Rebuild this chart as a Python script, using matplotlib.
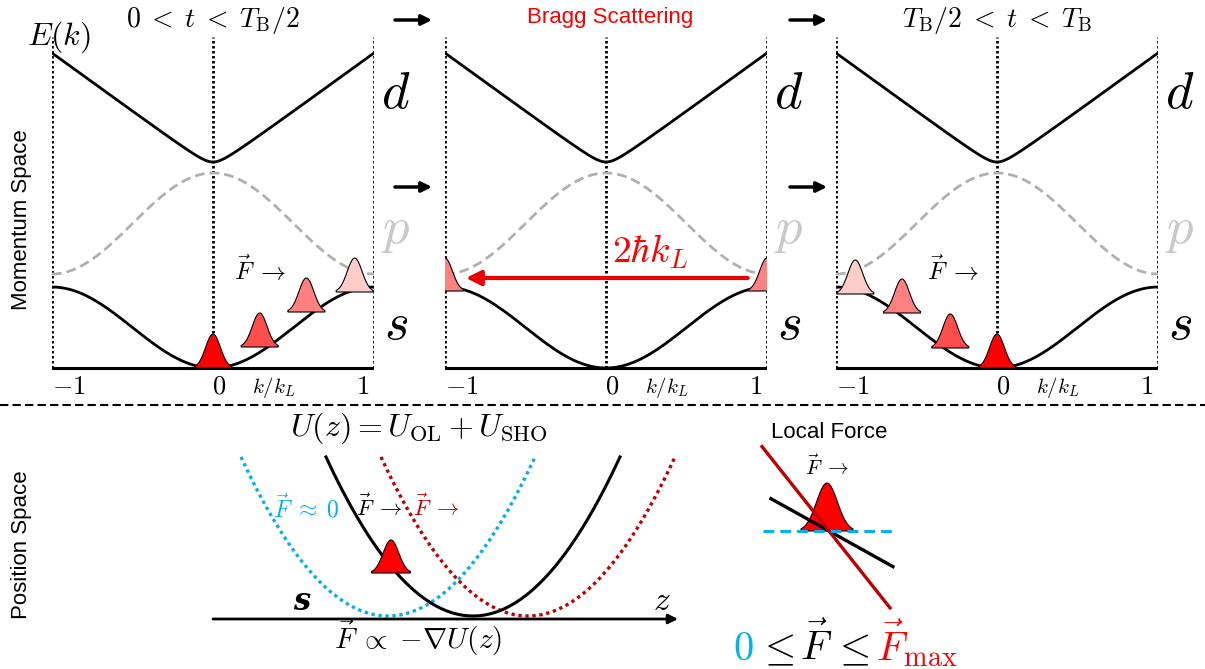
import numpy as np
import matplotlib.pyplot as plt

plt.rcParams['mathtext.fontset'] = 'cm'
plt.rcParams['font.family'] = ['Liberation Sans', 'DejaVu Sans']

W, H = 1205, 669

# ---- momentum space panels ----
panel_left = [52, 445, 836]          # pixel x of k = -1 in each panel
panel_titles = [r'$0\;<\;t\;<\;T_{\rm B}/2$', 'Bragg Scattering', r'$T_{\rm B}/2\;<\;t\;<\;T_{\rm B}$']
title_colors = ['black', 'red', 'black']

# band energies (units: 100 px above band bottom)
s_top = 0.81
p_min, p_max = 0.94, 1.95
d_min, d_edge = 2.06, 3.15
d_round = 0.08

# wave packets: k position, base energy
packets_k = [[0.0, 0.29, 0.58, 0.88], [], [0.0, -0.29, -0.59, -0.88]]
packets_E = [[0.0, 0.21, 0.56, 0.76], [], [0.0, 0.20, 0.55, 0.74]]
packet_colors = ['#ff0000', '#ff4d4d', '#ff8080', '#ffcccc']
bragg_k = [-1.0, 1.0]
bragg_E = [0.77, 0.77]
packet_h = 0.34
packet_hw = 0.115

# ---- position space ----
trap_z0 = [0.0, -0.85, 0.55]         # black, blue, red parabola centres
trap_colors = ['black', '#00b0f0', '#c00000']
trap_curv = 0.736
trap_arm = 1.47
pos_packet = (-0.82, 0.43)           # z, base U

# ---- local force ----
slopes = [0.0, -0.557, -1.26]        # blue (F=0), black, red (F max)
slope_x = [(-0.66, 0.65), (-0.58, 0.64), (-0.67, 0.61)]
slope_colors = ['#00b0f0', 'black', '#c00000']

# inequality pieces: text, colour, left x
ineq_pieces = [r'$0$', r'$\leq$', r'$\vec{F}$', r'$\leq$', r'$\vec{F}_{\rm max}$']
ineq_colors = ['#00b0f0', 'black', 'black', 'black', 'red']
ineq_x = [733, 757, 800, 832, 876]


def packet(ax, x0, base, h, hw, color, z=5):
    x = np.linspace(x0 - hw, x0 + hw, 80)
    sig = hw / 2.5
    y = base + h * np.exp(-(x - x0) ** 2 / (2 * sig ** 2))
    ax.fill(np.r_[x, x[::-1]], np.r_[y, np.full_like(y, base)],
            facecolor=color, edgecolor='black', lw=0.8, zorder=z)


fig = plt.figure(figsize=(W / 100, H / 100), dpi=100)
ax0 = fig.add_axes([0, 0, 1, 1])
ax0.set_xlim(0, W)
ax0.set_ylim(H, 0)
ax0.axis('off')

k = np.linspace(-1, 1, 301)
s_band = s_top / 2 * (1 - np.cos(np.pi * k))
p_band = p_min + (p_max - p_min) / 2 * (1 + np.cos(np.pi * k))
d_band = d_min - d_round + np.sqrt(d_round ** 2 + ((d_edge - d_min + d_round) ** 2 - d_round ** 2) * k ** 2)

for i, x0 in enumerate(panel_left):
    ax = fig.add_axes([x0 / W, 1 - 398 / H, 322 / W, 361 / H])
    ax.set_xlim(-1, 1)
    ax.set_ylim(-0.3, 3.31)
    ax.axis('off')
    for kk in [-1, 0, 1]:
        ax.plot([kk, kk], [0, 3.31], color='black', lw=2.0, ls=(0, (0.9, 0.9)), zorder=1)
    ax.plot([-1, 1], [0, 0], color='black', lw=2.2, zorder=2)
    ax.plot(k, d_band, color='black', lw=2)
    ax.plot(k, p_band, color='#b0b0b0', lw=2, dashes=(3.5, 1.8))
    ax.plot(k, s_band, color='black', lw=2)
    for kk, ee, cc in zip(packets_k[i], packets_E[i], packet_colors):
        packet(ax, kk, ee, packet_h, packet_hw, cc)
    ax.text(-1, -0.19, r'$-1$', fontsize=19, ha='left', va='center')
    ax.text(0.04, -0.19, r'$0$', fontsize=19, ha='center', va='center')
    ax.text(0.93, -0.19, r'$1$', fontsize=19, ha='center', va='center')
    ax.text(0.38, -0.19, r'$k/k_L$', fontsize=15, ha='center', va='center')
    if i == 1:
        for kk, ee in zip(bragg_k, bragg_E):
            packet(ax, kk, ee, 0.33, packet_hw, '#ff8080')
        ax.annotate('', xy=(-0.87, 0.9), xytext=(0.88, 0.9),
                    arrowprops=dict(arrowstyle='-|>', color='#ee0000', lw=3,
                                    mutation_scale=22, shrinkA=0, shrinkB=0))
        ax.text(0.04, 1.16, r'$2\hbar k_L$', color='red', fontsize=27, ha='left', va='center')
    else:
        ax.text(0.29 if i == 0 else -0.27, 0.98, r'$\vec{F}\;\rightarrow$', fontsize=18,
                ha='center', va='center')
    # band labels on the right
    xl = x0 + 322 + 22
    ax0.text(xl, 94, r'$d$', fontsize=38, ha='center', va='center')
    ax0.text(xl, 230, r'$p$', fontsize=38, ha='center', va='center', color='#c8c8c8')
    ax0.text(xl, 325, r'$s$', fontsize=38, ha='center', va='center')
    # titles
    cx = x0 + 161
    if i == 1:
        ax0.text(cx + 4, 18, panel_titles[i], fontsize=16, color='red', ha='center', va='center')
    else:
        ax0.text(cx, 21, panel_titles[i], fontsize=20, color=title_colors[i], ha='center', va='center')

ax0.text(59, 37, r'$E(k)$', fontsize=23, ha='center', va='center')

# arrows between panels
for xa, xb in [(395, 432), (790, 827)]:
    for ya in [20, 187]:
        ax0.annotate('', xy=(xb, ya), xytext=(xa, ya),
                     arrowprops=dict(arrowstyle='-|>', color='black', lw=2.5,
                                     mutation_scale=15, shrinkA=0, shrinkB=0))

ax0.text(22, 220, 'Momentum Space', fontsize=16, rotation=90, ha='center', va='center')
ax0.text(22, 545, 'Position Space', fontsize=16, rotation=90, ha='center', va='center')
ax0.plot([0, W], [405, 405], color='black', lw=1.5, dashes=(4, 2))

# ---- position space: trap potentials ----
axp = fig.add_axes([200 / W, 1 - 660 / H, 500 / W, 220 / H])
axp.set_xlim(-2.73, 2.27)
axp.set_ylim(-0.44, 1.76)
axp.axis('off')
for z0, col in zip(trap_z0, trap_colors):
    z = np.linspace(z0 - trap_arm, z0 + trap_arm, 200)
    if col == 'black':
        axp.plot(z, trap_curv * (z - z0) ** 2, color=col, lw=2.2, zorder=3)
    else:
        axp.plot(z, trap_curv * (z - z0) ** 2, color=col, lw=2.4, ls=(0, (1, 1.1)), zorder=2)
packet(axp, pos_packet[0], pos_packet[1], 0.33, 0.195, '#ff0000')
axp.annotate('', xy=(2.05, -0.03), xytext=(-2.6, -0.03),
             arrowprops=dict(arrowstyle='-|>', color='black', lw=2,
                             mutation_scale=14, shrinkA=0, shrinkB=0))

ax0.text(419, 428, r'$U(z)=U_{\rm OL}+U_{\rm SHO}$', fontsize=23, ha='center', va='center')
ax0.text(306, 508, r'$\vec{F}\;\approx\;0$', fontsize=17, color='#00b0f0', ha='center', va='center')
ax0.text(379, 508, r'$\vec{F}\;\rightarrow$', fontsize=16, ha='center', va='center')
ax0.text(436, 508, r'$\vec{F}\;\rightarrow$', fontsize=16, color='#c00000', ha='center', va='center')
ax0.text(302, 601, 's', fontsize=22, family='DejaVu Serif', style='italic', weight='bold',
         ha='center', va='center')
ax0.text(662, 601, r'$z$', fontsize=24, ha='center', va='center')
ax0.text(418, 638, r'$\vec{F}\;\propto\;{-\nabla} U(z)$', fontsize=21, ha='center', va='center')

# ---- local force ----
axl = fig.add_axes([740 / W, 1 - 630 / H, 180 / W, 200 / H])
axl.set_xlim(-0.89, 0.91)
axl.set_ylim(-0.99, 1.01)
axl.axis('off')
packet(axl, -0.02, 0.0, 0.48, 0.26, '#ff0000', z=1)
for m, (xa, xb), col in zip(slopes, slope_x, slope_colors):
    xs = np.array([xa, xb])
    if col == '#00b0f0':
        axl.plot(xs, m * xs, color=col, lw=2.2, dashes=(3.5, 2), zorder=4)
    else:
        axl.plot(xs, m * xs, color=col, lw=2.4, zorder=3)

ax0.text(829, 432, 'Local Force', fontsize=16, ha='center', va='center')
ax0.text(827, 467, r'$\vec{F}\;\rightarrow$', fontsize=15, ha='center', va='center')

# multi-coloured inequality
for piece, col, xp in zip(ineq_pieces, ineq_colors, ineq_x):
    ax0.text(xp, 660, piece, fontsize=29, color=col, ha='left', va='baseline')

fig.savefig('out.png', dpi=100)
